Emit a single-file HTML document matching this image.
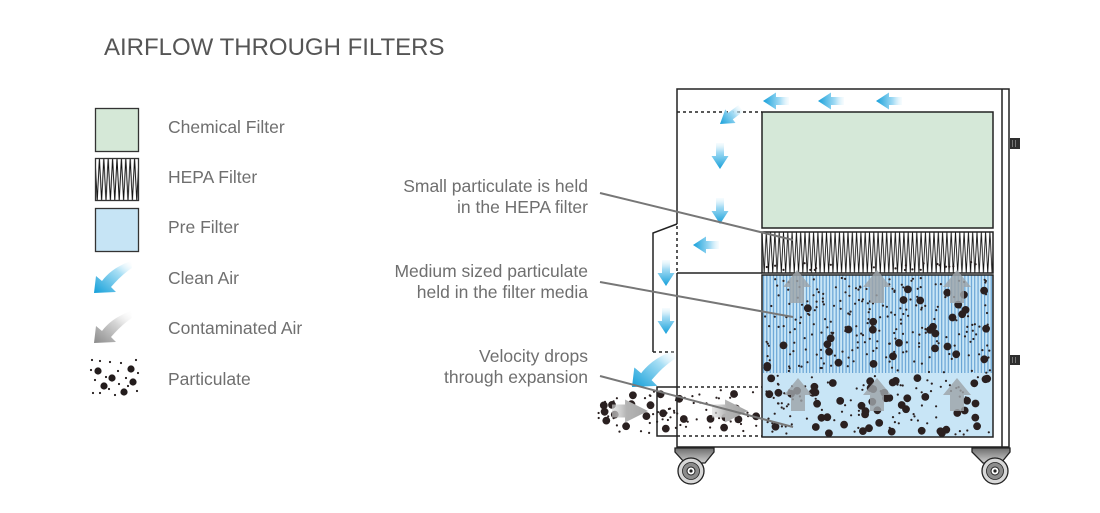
<!DOCTYPE html>
<html><head><meta charset="utf-8"><style>
html,body{margin:0;padding:0;background:#fff;}
svg{display:block;}
text{font-family:"Liberation Sans",Arial,sans-serif;}
</style></head><body>
<svg xmlns="http://www.w3.org/2000/svg" width="1100" height="513" viewBox="0 0 1100 513">
<defs>
  <linearGradient id="bg" x1="0" y1="0" x2="1" y2="0">
    <stop offset="0" stop-color="#e4f5fc" stop-opacity="0.3"/>
    <stop offset="0.35" stop-color="#a3dbf4"/>
    <stop offset="1" stop-color="#16a0da"/>
  </linearGradient>
  <linearGradient id="gg" x1="0" y1="0" x2="1" y2="0">
    <stop offset="0" stop-color="#d8d8d8" stop-opacity="0.6"/>
    <stop offset="0.4" stop-color="#b4b4b4"/>
    <stop offset="1" stop-color="#a4a4a4"/>
  </linearGradient>
  <linearGradient id="cbg" x1="1" y1="0" x2="0" y2="1">
    <stop offset="0" stop-color="#ffffff" stop-opacity="0.1"/>
    <stop offset="0.35" stop-color="#a9dff5"/>
    <stop offset="1" stop-color="#139fd9"/>
  </linearGradient>
  <linearGradient id="cgg" x1="1" y1="0" x2="0" y2="1">
    <stop offset="0" stop-color="#ffffff" stop-opacity="0.1"/>
    <stop offset="0.4" stop-color="#d6d6d6"/>
    <stop offset="1" stop-color="#8a8a8a"/>
  </linearGradient>
  <linearGradient id="wheelB" x1="0" y1="0" x2="0" y2="1">
    <stop offset="0" stop-color="#6d6d6d"/>
    <stop offset="1" stop-color="#cfcfcf"/>
  </linearGradient>
  <pattern id="hepa" patternUnits="userSpaceOnUse" x="762" y="232" width="4.3" height="41">
    <rect width="4.3" height="41" fill="#fff"/>
    <path d="M0,0 L2.15,41 L4.3,0" fill="none" stroke="#111" stroke-width="0.9"/>
  </pattern>
  <pattern id="hepaL" patternUnits="userSpaceOnUse" x="95" y="158" width="4.4" height="43">
    <rect width="4.4" height="43" fill="#fff"/>
    <path d="M0,0 L2.2,43 L4.4,0" fill="none" stroke="#111" stroke-width="1"/>
  </pattern>
  <pattern id="stripes" patternUnits="userSpaceOnUse" x="762" y="275" width="3.3" height="10">
    <rect width="3.3" height="10" fill="#c9e6f6"/>
    <rect x="1" width="1.1" height="10" fill="#5f9ed2"/>
  </pattern>
  <path id="ba" d="M-26,-4 L-13,-4 L-13,-8.5 L0,0 L-13,8.5 L-13,4 L-26,4 Z" fill="url(#bg)"/>
  <path id="ga" d="M-36,-6.5 L-23,-6.5 L-23,-11.5 L0,0 L-23,11.5 L-23,6.5 L-36,6.5 Z" fill="url(#gg)"/>
  <path id="ua" d="M0,0 L14,17 L7,17 L7,33 L-7,33 L-7,17 L-14,17 Z" fill="#9ea3a8" opacity="0.82"/>
  <path id="curve" d="M94,293 L96,276 L102,281 C108,273 117,266 131,261 L132,268 C124,273 117,280 111,287 L116,292 Z"/>
</defs>

<!-- Title -->
<text x="104" y="55" font-size="24" fill="#555">AIRFLOW THROUGH FILTERS</text>

<!-- Legend -->
<rect x="95.5" y="108.5" width="43" height="43" fill="#d5e8d7" stroke="#333" stroke-width="1.3"/>
<rect x="95.5" y="158.5" width="43" height="42" fill="url(#hepaL)" stroke="#333" stroke-width="1.3"/>
<rect x="95.5" y="208.5" width="43" height="43" fill="#c6e4f5" stroke="#333" stroke-width="1.3"/>
<use href="#curve" fill="url(#cbg)"/>
<use href="#curve" fill="url(#cgg)" transform="translate(0,50)"/>
<g fill="#231c1c">
  <circle cx="98" cy="371" r="3.6"/><circle cx="112" cy="378" r="3.6"/><circle cx="131" cy="369" r="3.6"/>
  <circle cx="104" cy="386" r="3.6"/><circle cx="124" cy="392" r="3.6"/><circle cx="133" cy="382" r="3.6"/>
  <circle cx="92" cy="360" r="1.1"/><circle cx="100" cy="361" r="1.1"/><circle cx="110" cy="362" r="1.1"/>
  <circle cx="121" cy="363" r="1.1"/><circle cx="136" cy="360" r="1.1"/><circle cx="118" cy="371" r="1.1"/>
  <circle cx="106" cy="377" r="1.1"/><circle cx="95" cy="380" r="1.1"/><circle cx="126" cy="378" r="1.1"/>
  <circle cx="137" cy="391" r="1.1"/><circle cx="93" cy="393" r="1.1"/><circle cx="115" cy="395" r="1.1"/>
  <circle cx="128" cy="386" r="1.1"/><circle cx="100" cy="393" r="1.1"/><circle cx="119" cy="384" r="1.1"/>
  <circle cx="91" cy="370" r="1.1"/><circle cx="109" cy="389" r="1.1"/><circle cx="138" cy="373" r="1.1"/>
</g>
<g font-size="17.5" fill="#6f6f6f">
  <text x="168" y="133">Chemical Filter</text>
  <text x="168" y="183">HEPA Filter</text>
  <text x="168" y="233">Pre Filter</text>
  <text x="168" y="284">Clean Air</text>
  <text x="168" y="334">Contaminated Air</text>
  <text x="168" y="385">Particulate</text>
</g>

<!-- Labels -->
<g font-size="17.5" fill="#6f6f6f" text-anchor="end">
  <text x="588" y="192">Small particulate is held</text>
  <text x="588" y="213">in the HEPA filter</text>
  <text x="588" y="277">Medium sized particulate</text>
  <text x="588" y="298">held in the filter media</text>
  <text x="588" y="362">Velocity drops</text>
  <text x="588" y="383">through expansion</text>
</g>

<!-- Machine filters -->
<rect x="762" y="112" width="231" height="116" fill="#d5e8d8" stroke="#222" stroke-width="1.5"/>
<rect x="762" y="232" width="231" height="41" fill="url(#hepa)" stroke="#222" stroke-width="1.5"/>
<rect x="762" y="275" width="231" height="162" fill="#c8e5f6"/>
<rect x="762" y="275" width="231" height="98" fill="url(#stripes)"/>
<g id="dots" fill="#2a2020"></g>
<rect x="762" y="275" width="231" height="162" fill="none" stroke="#222" stroke-width="1.5"/>

<!-- up arrows in pre-filter -->
<use href="#ua" transform="translate(797,270)"/>
<use href="#ua" transform="translate(877,270)"/>
<use href="#ua" transform="translate(957,270)"/>
<use href="#ua" transform="translate(798,378)"/>
<use href="#ua" transform="translate(877,378)"/>
<use href="#ua" transform="translate(957,378)"/>

<!-- Cabinet lines -->
<g fill="none" stroke="#222" stroke-width="1.5">
  <path d="M677,224 L677,89 L1009,89 L1009,447 L677,447 L677,273"/>
  <line x1="1002" y1="89" x2="1002" y2="447"/>
  <line x1="677" y1="273" x2="762" y2="273"/>
  <path d="M677,224 L653,233 L653,352"/>
  <path d="M677,387 L657,387 L657,436 L677,436"/>
</g>
<g fill="none" stroke="#222" stroke-width="1.5" stroke-dasharray="3,3">
  <line x1="677" y1="112" x2="762" y2="112"/>
  <line x1="677" y1="226" x2="677" y2="273"/>
  <line x1="653" y1="352" x2="677" y2="352"/>
  <line x1="677" y1="387" x2="762" y2="387"/>
  <line x1="677" y1="436" x2="762" y2="436"/>
</g>

<!-- Knobs -->
<rect x="1010" y="138" width="10" height="11" fill="#2e2e2e"/>
<rect x="1012" y="140" width="1" height="7" fill="#777"/><rect x="1015" y="140" width="1" height="7" fill="#777"/>
<rect x="1010" y="355" width="10" height="10" fill="#2e2e2e"/>
<rect x="1012" y="357" width="1" height="6" fill="#777"/><rect x="1015" y="357" width="1" height="6" fill="#777"/>

<!-- Wheels -->
<g stroke="#222" stroke-width="1.3">
  <path d="M675,448 L714,448 L714,452 L705,463 L685,463 L675,452 Z" fill="url(#wheelB)"/>
  <circle cx="691" cy="471" r="13" fill="#d8d8d8"/>
  <circle cx="691" cy="471" r="8.5" fill="#8c8c8c" stroke-width="0.8"/>
  <circle cx="691" cy="471" r="4" fill="#fff" stroke-width="1"/>
  <path d="M972,448 L1010,448 L1010,452 L1001,463 L983,463 L972,452 Z" fill="url(#wheelB)"/>
  <circle cx="995" cy="471" r="13" fill="#d8d8d8"/>
  <circle cx="995" cy="471" r="8.5" fill="#8c8c8c" stroke-width="0.8"/>
  <circle cx="995" cy="471" r="4" fill="#fff" stroke-width="1"/>
</g>
<circle cx="691" cy="471" r="1.6" fill="#222"/>
<circle cx="995" cy="471" r="1.6" fill="#222"/>

<!-- Blue arrows -->
<use href="#ba" transform="translate(763,101) rotate(180)"/>
<use href="#ba" transform="translate(818,101) rotate(180)"/>
<use href="#ba" transform="translate(876,101) rotate(180)"/>
<use href="#ba" transform="translate(720,124) rotate(143)"/>
<use href="#ba" transform="translate(720,169) rotate(90)"/>
<use href="#ba" transform="translate(720,224) rotate(90)"/>
<use href="#ba" transform="translate(693,245) rotate(180)"/>
<use href="#ba" transform="translate(666,286) rotate(90)"/>
<use href="#ba" transform="translate(666,334) rotate(90)"/>
<use href="#curve" fill="url(#cbg)" transform="translate(632,387) scale(1.15) translate(-94,-293)"/>

<!-- Gray arrows -->
<use href="#ga" transform="translate(648,411)"/>
<use href="#ga" transform="translate(748,411)"/>

<!-- Leader lines -->
<g stroke="#777" stroke-width="2" fill="none">
  <line x1="600" y1="193" x2="793" y2="240"/>
  <line x1="600" y1="282" x2="793" y2="317"/>
  <line x1="600" y1="376" x2="793" y2="427"/>
</g>

<script>
(function(){
var NS='http://www.w3.org/2000/svg';
var g=document.getElementById('dots');
var s=91;
function rnd(){s=(s*16807)%2147483647;return (s-1)/2147483646;}
function dot(x,y,r){var c=document.createElementNS(NS,'circle');c.setAttribute('cx',x.toFixed(1));c.setAttribute('cy',y.toFixed(1));c.setAttribute('r',r);g.appendChild(c);}
var i;
for(i=0;i<32;i++){dot(767+rnd()*221,288+rnd()*82,3.9);}
for(i=0;i<52;i++){dot(767+rnd()*221,378+rnd()*56,3.9);}
for(i=0;i<230;i++){dot(765+rnd()*225,278+rnd()*95,1.1);}
for(i=0;i<90;i++){dot(765+rnd()*225,375+rnd()*60,1.1);}
for(i=0;i<22;i++){dot(766+rnd()*224,262+rnd()*8,1.1);}
for(i=0;i<22;i++){dot(602+rnd()*156,393+rnd()*40,3.9);}
for(i=0;i<65;i++){dot(598+rnd()*162,390+rnd()*44,1.1);}
})();
</script>
</svg>
</body></html>
